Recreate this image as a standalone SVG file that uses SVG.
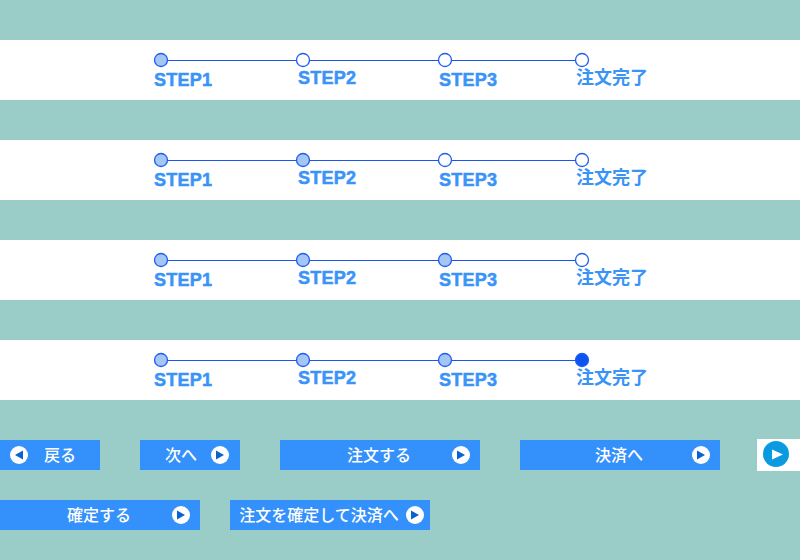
<svg xmlns="http://www.w3.org/2000/svg" width="800" height="560" viewBox="0 0 800 560">
<style>
.band{fill:#fff}
.ln{stroke:#1a55f0;stroke-width:1;fill:none}
.off,.done,.now{stroke:#1f5cf0;stroke-width:1.3}
.off{fill:#fff}.done{fill:#a3c6f5}.now{fill:#0a55f0}
.st{font-family:"Liberation Sans",Arial,sans-serif;font-weight:700;font-size:18px;fill:#3a94f7;stroke:#3a94f7;stroke-width:.5}
.jp{font-family:"Noto Sans CJK JP","Noto Sans",sans-serif;font-weight:700;font-size:18px;fill:#3a94f7}
.btn{fill:#3490fa}
.bt{font-family:"Noto Sans CJK JP","Noto Sans",sans-serif;font-weight:500;font-size:16px;fill:#fff;text-anchor:middle}
.wc{fill:#fff}.ar{fill:#0a62d0}
</style>
<defs>
<g id="labels">
<text class="st" x="154" y="86" textLength="58">STEP1</text>
<text class="st" x="298" y="84" textLength="58">STEP2</text>
<text class="st" x="439" y="86" textLength="58">STEP3</text>
<text class="jp" x="576" y="84">注文完了</text>
</g>
</defs>
<rect id="bg" width="800" height="560" fill="#9accc8"/>
<g id="bands">
<rect class="band" y="40" width="800" height="60"/>
<rect class="band" y="140" width="800" height="60"/>
<rect class="band" y="240" width="800" height="60"/>
<rect class="band" y="340" width="800" height="60"/>
</g>
<g id="connectors">
<path class="ln" d="M161 60.5H582M161 160.5H582M161 260.5H582M161 360.5H582"/>
</g>
<g id="stepper1">
<circle class="done" cx="161" cy="60" r="6.5"/><circle class="off" cx="303" cy="60" r="6.5"/><circle class="off" cx="445" cy="60" r="6.5"/><circle class="off" cx="582" cy="60" r="6.5"/>
<use href="#labels"/>
</g>
<g id="stepper2">
<circle class="done" cx="161" cy="160" r="6.5"/><circle class="done" cx="303" cy="160" r="6.5"/><circle class="off" cx="445" cy="160" r="6.5"/><circle class="off" cx="582" cy="160" r="6.5"/>
<use href="#labels" y="100"/>
</g>
<g id="stepper3">
<circle class="done" cx="161" cy="260" r="6.5"/><circle class="done" cx="303" cy="260" r="6.5"/><circle class="done" cx="445" cy="260" r="6.5"/><circle class="off" cx="582" cy="260" r="6.5"/>
<use href="#labels" y="200"/>
</g>
<g id="stepper4">
<circle class="done" cx="161" cy="360" r="6.5"/><circle class="done" cx="303" cy="360" r="6.5"/><circle class="done" cx="445" cy="360" r="6.5"/><circle class="now" cx="582" cy="360" r="6.5"/>
<use href="#labels" y="300"/>
</g>
<g id="btn-back">
<rect class="btn" x="0" y="440" width="100" height="30"/>
<circle class="wc" cx="19" cy="455" r="9"/><path class="ar" d="M15 455L23 450.5V459.5Z"/>
<text class="bt" x="60" y="461">戻る</text>
</g>
<g id="btn-next">
<rect class="btn" x="140" y="440" width="100" height="30"/>
<text class="bt" x="181" y="461">次へ</text>
<circle class="wc" cx="220" cy="455" r="9"/><path class="ar" d="M216 450.5L224 455L216 459.5Z"/>
</g>
<g id="btn-order">
<rect class="btn" x="280" y="440" width="200" height="30"/>
<text class="bt" x="379" y="461">注文する</text>
<circle class="wc" cx="461" cy="455" r="9"/><path class="ar" d="M457 450.5L465 455L457 459.5Z"/>
</g>
<g id="btn-pay">
<rect class="btn" x="520" y="440" width="200" height="30"/>
<text class="bt" x="619" y="461">決済へ</text>
<circle class="wc" cx="701" cy="455" r="9"/><path class="ar" d="M697 450.5L705 455L697 459.5Z"/>
</g>
<g id="btn-icon">
<rect class="band" x="757" y="439" width="43" height="32"/>
<circle cx="776" cy="454" r="13" fill="#0a9ae0"/><path d="M772 449.5L783 454.5L772 459.5Z" fill="#fff"/>
</g>
<g id="btn-confirm">
<rect class="btn" x="0" y="500" width="200" height="30"/>
<text class="bt" x="99" y="521">確定する</text>
<circle class="wc" cx="181" cy="515" r="9"/><path class="ar" d="M177 510.5L185 515L177 519.5Z"/>
</g>
<g id="btn-confirm-pay">
<rect class="btn" x="230" y="500" width="200" height="30"/>
<text class="bt" x="319" y="521">注文を確定して決済へ</text>
<circle class="wc" cx="415" cy="515" r="9"/><path class="ar" d="M411 510.5L419 515L411 519.5Z"/>
</g>
</svg>
